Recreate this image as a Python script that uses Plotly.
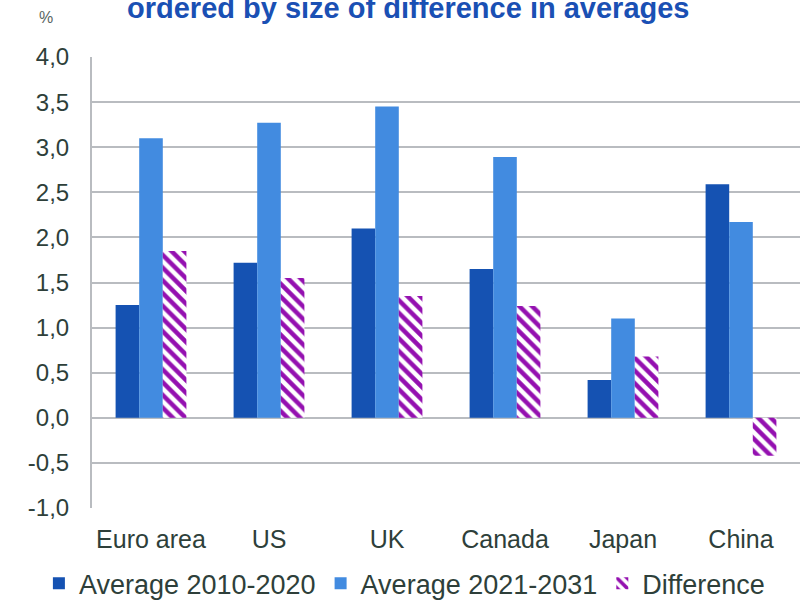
import plotly.graph_objects as go

# Average growth, % — read per economy
countries = ["Euro area", "US", "UK", "Canada", "Japan", "China"]
avg_2010_2020 = [1.25, 1.72, 2.10, 1.65, 0.42, 2.59]
avg_2021_2031 = [3.10, 3.27, 3.45, 2.89, 1.10, 2.17]
difference = [1.85, 1.55, 1.35, 1.24, 0.68, -0.42]

y_ticks = [-1.0, -0.5, 0.0, 0.5, 1.0, 1.5, 2.0, 2.5, 3.0, 3.5, 4.0]
# decimal-comma labels with a plain hyphen for negatives
y_tick_text = [f"{v:.1f}".replace(".", ",") for v in y_ticks]

DARK = "#1552b2"
LIGHT = "#428be0"
PURPLE = "#9410b0"
TEXT = "#2e3f3a"
GRID = "#b9bcc0"
FONT = "Liberation Sans, Arial, sans-serif"

fig = go.Figure()
fig.add_trace(go.Bar(
    x=countries, y=avg_2010_2020, name="Average 2010-2020",
    marker=dict(color=DARK, line=dict(width=0)),
))
fig.add_trace(go.Bar(
    x=countries, y=avg_2021_2031, name="Average 2021-2031",
    marker=dict(color=LIGHT, line=dict(width=0)),
))
fig.add_trace(go.Bar(
    x=countries, y=difference, name="Difference",
    marker=dict(
        color="white",
        line=dict(width=0),
        pattern=dict(shape="\\", fgcolor=PURPLE, bgcolor="white",
                     size=9, solidity=0.5, fgopacity=1, fillmode="replace"),
    ),
))

fig.update_layout(
    width=806, height=600,
    margin=dict(l=92, r=6, t=57, b=92, autoexpand=False),
    paper_bgcolor="white", plot_bgcolor="white",
    barmode="group", bargap=0.4, bargroupgap=0,
    separators=",.",
    font=dict(family=FONT, size=25, color=TEXT),
    showlegend=True,
    legend=dict(
        orientation="h", x=-0.075, xanchor="left",
        y=-0.168, yanchor="middle",
        font=dict(size=27, color=TEXT),
        itemwidth=30, traceorder="normal", tracegroupgap=0,
        bgcolor="rgba(0,0,0,0)",
    ),
    xaxis=dict(
        showgrid=False, showline=False, ticks="", automargin=False,
        tickfont=dict(size=25, color=TEXT),
        ticklabelstandoff=14,
    ),
    yaxis=dict(
        range=[-1.0, 4.0], tickvals=y_ticks, ticktext=y_tick_text,
        automargin=False,
        showgrid=True, gridcolor=GRID, gridwidth=2,
        zeroline=True, zerolinecolor=GRID, zerolinewidth=2,
        showline=True, linecolor=GRID, linewidth=2,
        ticks="", tickfont=dict(size=24, color=TEXT),
        ticklabelstandoff=16,
    ),
    annotations=[
        dict(text="<b>ordered by size of difference in averages</b>",
             xref="paper", yref="paper", x=0.446, y=1.109,
             xanchor="center", yanchor="middle", showarrow=False,
             font=dict(family=FONT, size=29, color="#1a50b4")),
        dict(text="%", xref="paper", yref="paper", x=-0.065, y=1.088,
             xanchor="center", yanchor="middle", showarrow=False,
             font=dict(family=FONT, size=16, color="#5a6562")),
    ],
)

fig.write_html("out.html")
